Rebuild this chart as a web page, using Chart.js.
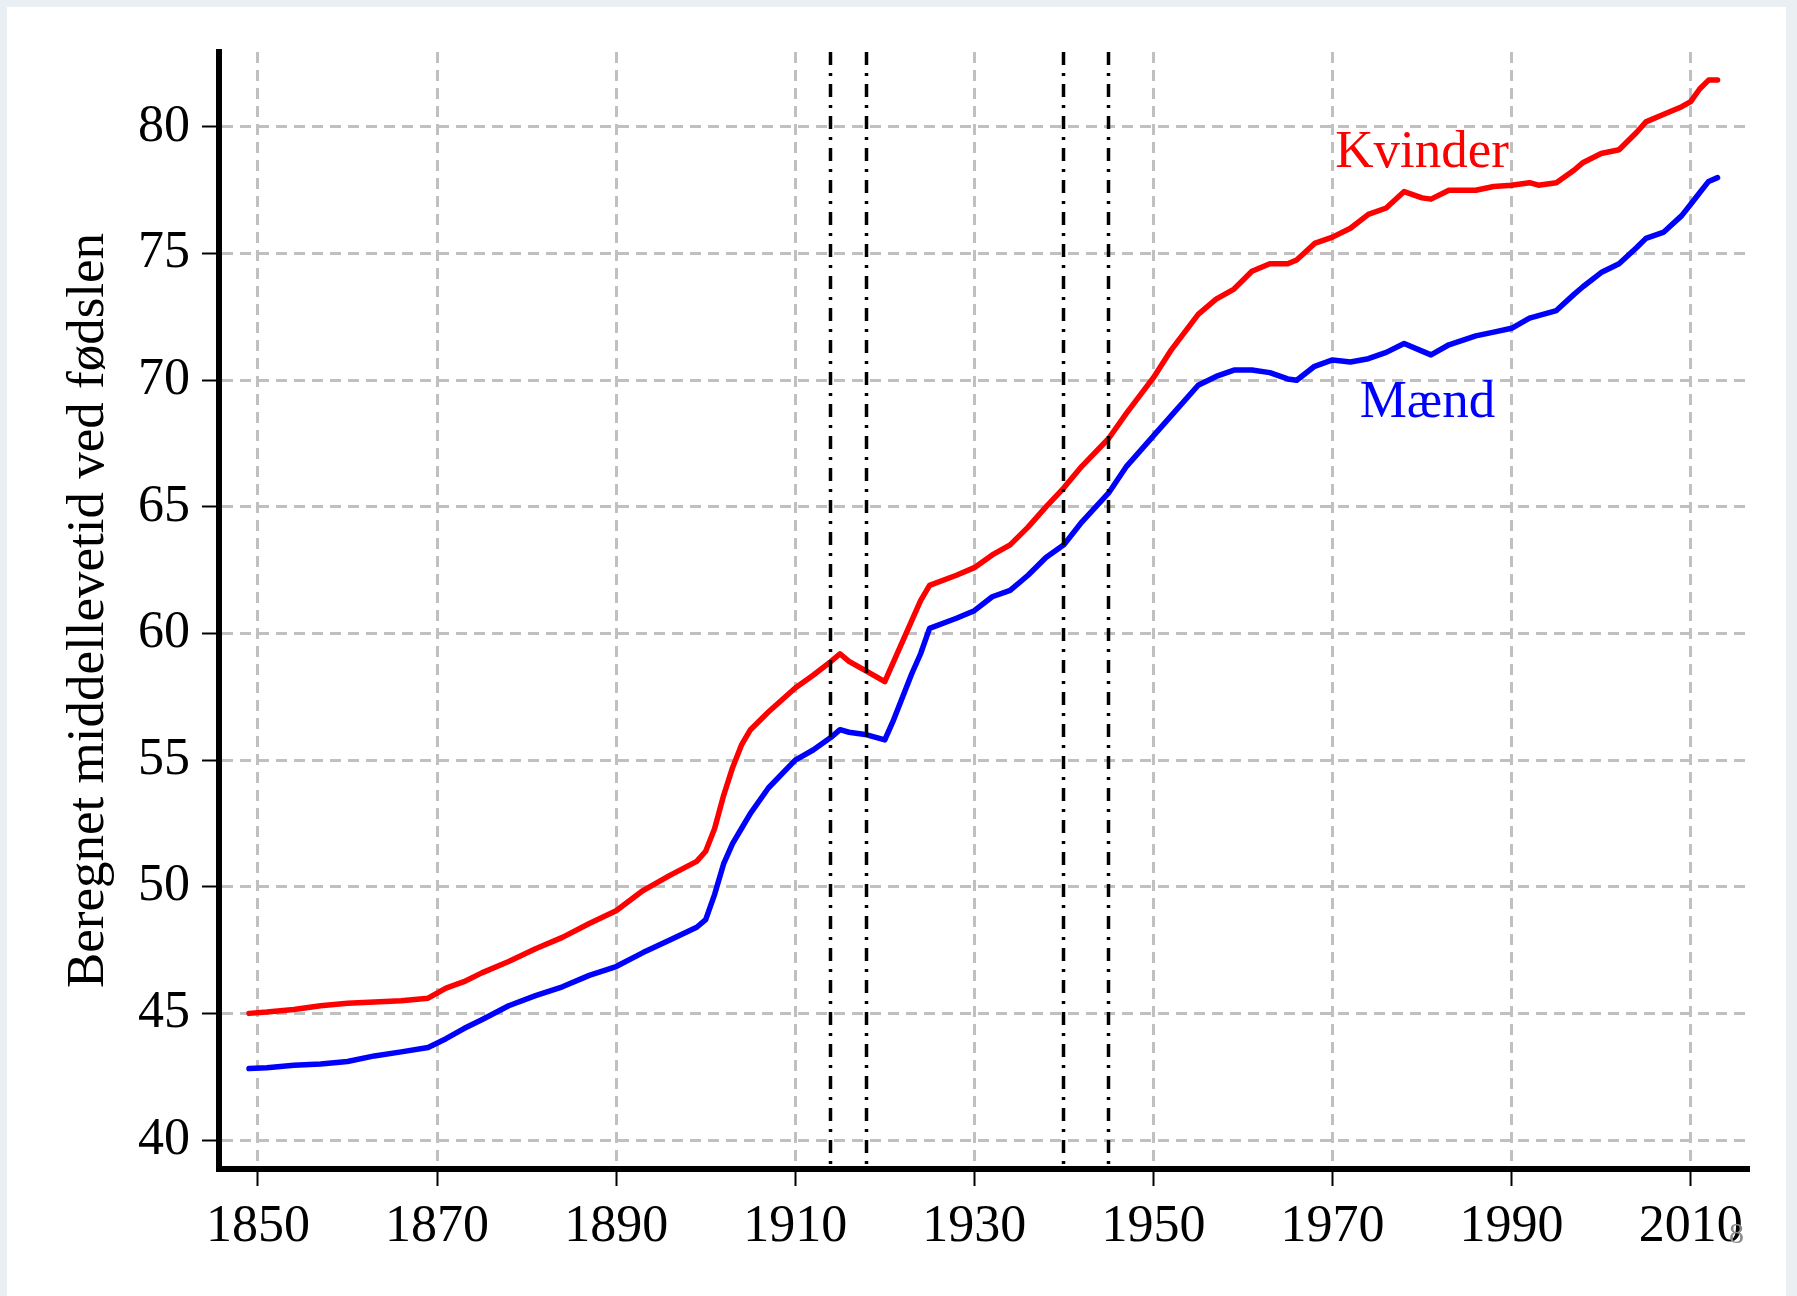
<!DOCTYPE html>
<html>
<head>
<meta charset="utf-8">
<script src="https://cdn.jsdelivr.net/npm/chart.js@4.4.0/dist/chart.umd.min.js"></script>
<style>
  html, body { margin: 0; padding: 0; background: #e9eff2; overflow: hidden; }
  #frame { position: absolute; left: 7px; top: 7px; width: 1779px; height: 1289px; background: #fff; }
  #wrap { position: absolute; left: 0; top: 0; width: 1797px; height: 1296px; }
  #page-no { position: absolute; left: 1729px; top: 1216px; font: 30px "Liberation Serif", serif; color: #8a8a8a; }
</style>
</head>
<body>
<div id="frame"></div>
<div id="wrap"><canvas id="life-chart"></canvas></div>
<div id="page-no">8</div>
<script>
// Middellevetid ved fødslen, Danmark
const years = [
  1849, 1851, 1854, 1857, 1860, 1863, 1866, 1869, 1871, 1873,
  1875, 1878, 1881, 1884, 1887, 1890, 1893, 1896, 1899, 1900,
  1901, 1902, 1903, 1904, 1905, 1907, 1910, 1912, 1914, 1915,
  1916, 1918, 1920, 1921, 1922, 1923, 1924, 1925, 1928, 1930,
  1932, 1934, 1936, 1938, 1940, 1942, 1945, 1947, 1950, 1952,
  1955, 1957, 1959, 1961, 1963, 1965, 1966, 1968, 1970, 1972,
  1974, 1976, 1978, 1980, 1981, 1983, 1986, 1988, 1990, 1992,
  1993, 1995, 1997, 1998, 2000, 2002, 2004, 2005, 2007, 2009,
  2010, 2011, 2012, 2013
]
const kvinder = [
  45.0, 45.05, 45.15, 45.3, 45.4, 45.45, 45.5, 45.6, 46.0, 46.25,
  46.6, 47.05, 47.55, 48.0, 48.55, 49.05, 49.85, 50.45, 51.0, 51.4,
  52.3, 53.6, 54.7, 55.6, 56.2, 56.9, 57.85, 58.35, 58.9, 59.2,
  58.9, 58.5, 58.1, 58.9, 59.7, 60.5, 61.3, 61.9, 62.3, 62.6,
  63.1, 63.5, 64.2, 65.0, 65.75, 66.6, 67.7, 68.7, 70.1, 71.2,
  72.6, 73.2, 73.6, 74.3, 74.6, 74.6, 74.75, 75.4, 75.65, 76.0,
  76.55, 76.8, 77.45, 77.2, 77.15, 77.5, 77.5, 77.65, 77.7, 77.8,
  77.7, 77.8, 78.3, 78.6, 78.95, 79.1, 79.8, 80.2, 80.5, 80.8,
  81.0, 81.5, 81.85, 81.85
]
const maend = [
  42.82, 42.85, 42.95, 43.0, 43.1, 43.32, 43.48, 43.65, 44.0, 44.4,
  44.75, 45.3, 45.7, 46.05, 46.5, 46.85, 47.4, 47.9, 48.4, 48.7,
  49.7, 50.9, 51.7, 52.3, 52.9, 53.9, 55.0, 55.4, 55.9, 56.2,
  56.1, 56.0, 55.8, 56.6, 57.5, 58.4, 59.2, 60.2, 60.6, 60.9,
  61.45, 61.7, 62.3, 63.0, 63.5, 64.4, 65.55, 66.6, 67.8, 68.6,
  69.8, 70.15, 70.4, 70.4, 70.3, 70.05, 70.0, 70.55, 70.8, 70.72,
  70.85, 71.1, 71.45, 71.15, 71.0, 71.4, 71.75, 71.9, 72.05, 72.45,
  72.55, 72.75, 73.4, 73.7, 74.25, 74.6, 75.25, 75.6, 75.85, 76.5,
  76.95, 77.4, 77.85, 78.0
]
const xTicks = [1850, 1870, 1890, 1910, 1930, 1950, 1970, 1990, 2010]
const yTicks = [40, 45, 50, 55, 60, 65, 70, 75, 80]
const warYears = [1914, 1918, 1940, 1945]

const serif = 'Liberation Serif'

// dash-dot lines for the wars and the red/blue text labels
const overlay = {
  id: 'overlay',
  afterDatasetsDraw(chart) {
    const {ctx, chartArea, scales: {x, y}} = chart
    ctx.save()
    ctx.strokeStyle = '#000'
    ctx.lineWidth = 3.5
    ctx.setLineDash([13, 8, 3, 8])
    warYears.forEach(yr => {
      const px = Math.round(x.getPixelForValue(yr)) - 0.5
      ctx.beginPath()
      ctx.moveTo(px, chartArea.top)
      ctx.lineTo(px, chartArea.bottom)
      ctx.stroke()
    })
    ctx.setLineDash([])
    ctx.font = '53px "' + serif + '"'
    ctx.textAlign = 'center'
    ctx.textBaseline = 'alphabetic'
    ctx.fillStyle = '#ff0000'
    ctx.fillText('Kvinder', x.getPixelForValue(1980), y.getPixelForValue(78.4))
    ctx.fillStyle = '#0000ff'
    ctx.fillText('Mænd', x.getPixelForValue(1980.6), y.getPixelForValue(68.55))
    ctx.restore()
  }
}

function toPoints(values) {
  return years.map((yr, i) => ({x: yr, y: values[i]}))
}

let chart = new Chart(document.getElementById('life-chart'), {
  type: 'line',
  data: {
    datasets: [
      {label: 'Kvinder', data: toPoints(kvinder), borderColor: '#ff0000'},
      {label: 'Mænd', data: toPoints(maend), borderColor: '#0000ff'}
    ]
  },
  options: {
    responsive: true,
    maintainAspectRatio: false,
    animation: false,
    layout: {padding: {top: 52, right: 49, bottom: 0, left: 0}},
    elements: {
      point: {radius: 0},
      line: {tension: 0, borderWidth: 5.5, borderJoinStyle: 'round', borderCapStyle: 'round'}
    },
    plugins: {
      legend: {display: false},
      tooltip: {enabled: false}
    },
    scales: {
      x: {
        type: 'linear',
        min: 1845.65,
        max: 2016.4,
        afterBuildTicks: s => { s.ticks = xTicks.map(v => ({value: v})) },
        afterFit: s => { s.height = 127 },
        ticks: {
          font: {family: serif, size: 52},
          color: '#000',
          padding: 10,
          maxRotation: 0,
          autoSkip: false,
          callback: v => String(v)
        },
        grid: {color: '#c0c0c0', lineWidth: 3, tickColor: '#000', tickWidth: 2, tickLength: 17},
        border: {display: true, color: '#000', width: 6, dash: [11, 7]}
      },
      y: {
        min: 38.855,
        max: 82.96,
        afterBuildTicks: s => { s.ticks = yTicks.map(v => ({value: v})) },
        afterFit: s => { s.width = 219 },
        ticks: {
          font: {family: serif, size: 52},
          color: '#000',
          padding: 12,
          callback: v => String(v)
        },
        grid: {color: '#c0c0c0', lineWidth: 3, tickColor: '#000', tickWidth: 2, tickLength: 17},
        border: {display: true, color: '#000', width: 6, dash: [11, 7]},
        title: {
          display: true,
          text: 'Beregnet middellevetid ved fødslen',
          font: {family: serif, size: 53},
          color: '#000',
          padding: {top: 57, bottom: 0}
        }
      }
    }
  },
  plugins: [overlay]
})
</script>
</body>
</html>
